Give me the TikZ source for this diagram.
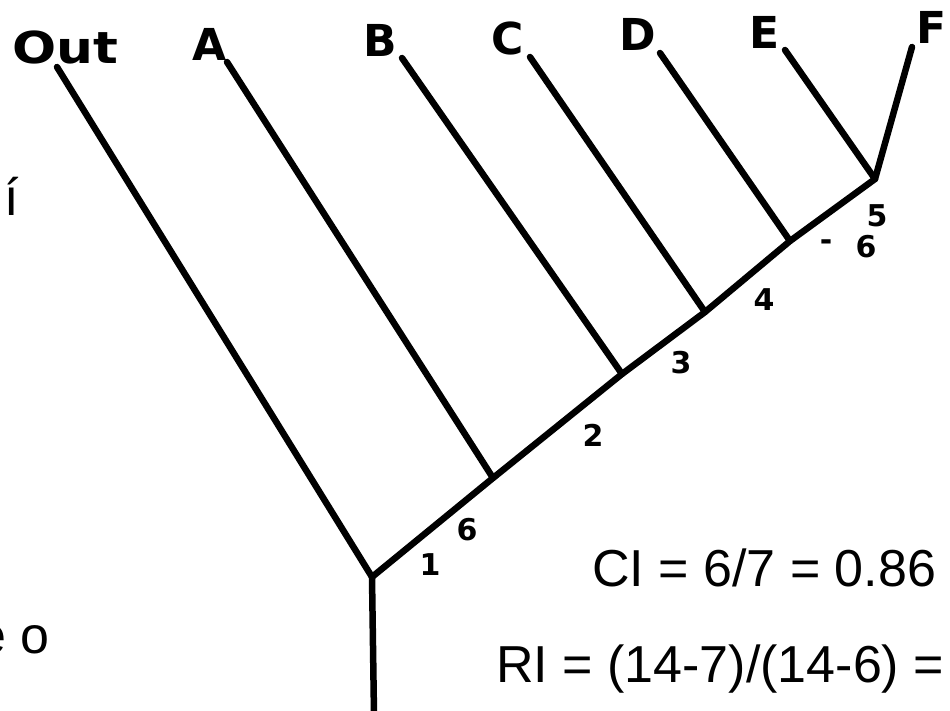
\documentclass[tikz,border=0pt]{standalone}
\usepackage{fontspec}
\setmainfont{Liberation Sans}
\newfontfamily\labfont{DejaVu Sans}
\begin{document}
\begin{tikzpicture}[x=1pt,y=-1pt,
  branch/.style={line width=6.5pt, line cap=round, line join=round},
  taxon/.style={font=\labfont\bfseries\fontsize{44}{44}\selectfont, inner sep=0pt},
  stepnum/.style={font=\labfont\bfseries\fontsize{30}{30}\selectfont, inner sep=0pt},
  idx/.style={font=\fontsize{52}{52}\selectfont, inner sep=0pt, anchor=base west}]
\useasboundingbox (0,0) rectangle (950,710);
% taxon labels
\node[taxon] (out) at (65,47) {\scalebox{1.18}[1]{Out}};
\node[taxon] (a) at (210,44) {A};
\node[taxon] (b) at (380,40) {B};
\node[taxon] (c) at (508,38) {C};
\node[taxon] (d) at (638,34) {D};
\node[taxon] (e) at (765,32) {E};
\node[taxon] (f) at (932,27) {F};
% branch tips
\coordinate (tOut) at (57,67);
\coordinate (tA) at (227,62);
\coordinate (tB) at (402,58);
\coordinate (tC) at (530,57);
\coordinate (tD) at (660,53);
\coordinate (tE) at (785,50);
\coordinate (tF) at (912,47);
% junctions
\coordinate (jR) at (372,577);
\coordinate (jA) at (493,478);
\coordinate (jB) at (622,374);
\coordinate (jC) at (705,312);
\coordinate (jD) at (790,241);
\coordinate (jF) at (875,179);
\coordinate (base) at (374,715);
% branches
\draw[branch] (tOut) -- (jR);
\draw[branch] (tA) -- (jA);
\draw[branch] (tB) -- (jB);
\draw[branch] (tC) -- (jC);
\draw[branch] (tD) -- (jD);
\draw[branch] (tE) -- (jF);
\draw[branch] (tF) -- (jF);
\draw[branch] (jR) -- (jA) -- (jB) -- (jC) -- (jD) -- (jF);
\draw[branch] (jR) -- (base);
% step numbers
\node[stepnum] (n1) at (430,565) {1};
\node[stepnum] (n6a) at (467,530) {6};
\node[stepnum] (n2) at (593,435) {2};
\node[stepnum] (n3) at (681,363) {3};
\node[stepnum] (n4) at (764,300) {4};
\node[stepnum] (n5) at (877,216) {5};
\node[stepnum] (ndash) at (826,245) {-};
\node[stepnum] (n6b) at (866,247) {6};
% indices
\node[idx] (ci) at (592,586) {CI = 6/7 = 0.86};
\node[idx] (ri) at (496,682) {RI = (14-7)/(14-6) =};
% cut-off fragments at the left edge
\node[idx] (frag1) at (4,215) {í};
\node[idx] (frag2) at (-23,653) {e o};
\end{tikzpicture}
\end{document}
